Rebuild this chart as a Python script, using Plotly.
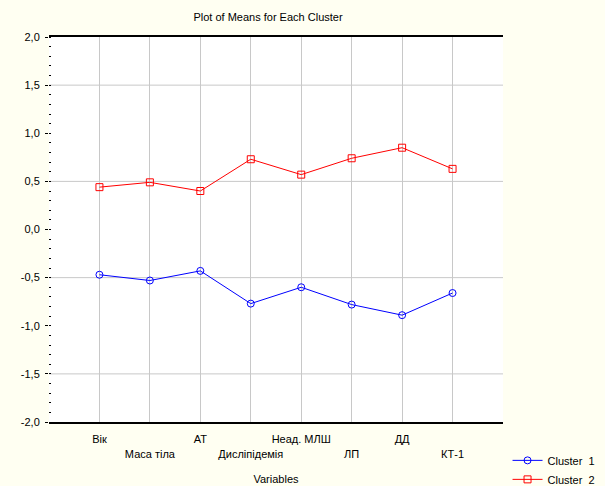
import plotly.graph_objects as go

categories = ["Вік", "Маса тіла", "АТ", "Дисліпідемія", "Неад. МЛШ", "ЛП", "ДД", "КТ-1"]
cluster1 = [-0.47, -0.53, -0.43, -0.77, -0.60, -0.78, -0.89, -0.66]
cluster2 = [0.44, 0.49, 0.40, 0.73, 0.57, 0.74, 0.85, 0.63]
y_ticks = [-2.0, -1.5, -1.0, -0.5, 0.0, 0.5, 1.0, 1.5, 2.0]
y_grid = [-1.5, -0.5, 0.5, 1.5]

xpos = list(range(1, len(categories) + 1))
ticktext = [c if i % 2 == 0 else "<br>" + c for i, c in enumerate(categories)]
ytext = [f"{v:.1f}".replace(".", ",") for v in y_ticks]

FONT = "Liberation Sans, Arial, sans-serif"

fig = go.Figure()
fig.add_trace(go.Scatter(
    x=xpos, y=cluster1, name="Cluster  1", mode="lines+markers",
    line=dict(color="#0000ff", width=1),
    marker=dict(symbol="circle-open", size=7, color="#0000ff", line=dict(width=1)),
))
fig.add_trace(go.Scatter(
    x=xpos, y=cluster2, name="Cluster  2", mode="lines+markers",
    line=dict(color="#ff0000", width=1),
    marker=dict(symbol="square-open", size=7, color="#ff0000", line=dict(width=1)),
))

for g in y_grid:
    fig.add_shape(type="line", xref="paper", yref="y", x0=0, x1=1, y0=g, y1=g,
                  line=dict(color="#c8c8c8", width=1), layer="below")

fig.update_layout(
    width=605, height=486,
    margin=dict(l=49, r=102, t=37, b=64, autoexpand=False),
    paper_bgcolor="#fffff2",
    plot_bgcolor="#ffffff",
    font=dict(family=FONT, size=11, color="#000000"),
    title=dict(text="Plot of Means for Each Cluster", x=268 / 605, xanchor="center",
               y=1 - 17 / 486, yanchor="middle", font=dict(size=11)),
    showlegend=True,
    legend=dict(x=1.01, xanchor="left", y=-0.062, yanchor="top", itemwidth=30,
                bgcolor="rgba(0,0,0,0)", font=dict(size=11), tracegroupgap=0),
    xaxis=dict(
        range=[0, 9], tickvals=xpos, ticktext=ticktext, tickangle=0,
        showgrid=True, gridcolor="#c8c8c8", gridwidth=1,
        showline=True, linecolor="#000000", linewidth=2, mirror=True,
        ticks="", zeroline=False, ticklabelstandoff=6, automargin=False,
        title=dict(text="Variables", font=dict(size=11), standoff=17),
        tickfont=dict(size=11),
    ),
    yaxis=dict(
        range=[-2, 2], tickvals=y_ticks, ticktext=ytext, automargin=False,
        showgrid=False, zeroline=False, showline=False,
        ticks="outside", ticklen=3, tickcolor="#000000",
        minor=dict(dtick=0.1, ticks="inside", ticklen=2, tickcolor="#000000", showgrid=False),
        tickfont=dict(size=11), ticklabelstandoff=3,
    ),
    yaxis2=dict(
        range=[-2, 2], overlaying="y", side="right", showgrid=False, zeroline=False,
        showline=True, linecolor="#000000", linewidth=2, automargin=False,
        ticks="inside", dtick=0.2, ticklen=3, tickcolor="#000000",
        showticklabels=False,
    ),
)

fig.write_html("out.html", config={"displayModeBar": False},
               post_script="document.body.style.margin='0';document.body.style.overflow='hidden';")
